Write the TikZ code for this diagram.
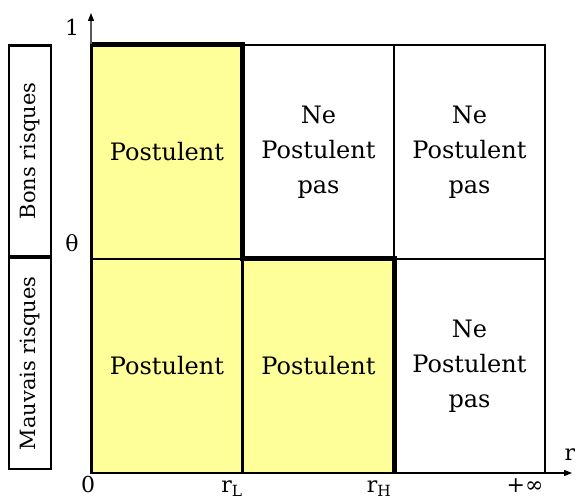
\documentclass[tikz,border=0pt]{standalone}
\usepackage{fontspec}
\setmainfont{DejaVu Serif}
\usetikzlibrary{arrows.meta}
\definecolor{jaune}{RGB}{255,255,153}
\tikzset{
  cell/.style={draw,line width=2.4pt,outer sep=0pt,minimum width=151pt,minimum height=214pt,inner sep=0pt,align=center,font=\fontsize{24}{35}\selectfont},
  risk/.style={draw,line width=2.6pt,outer sep=0pt,minimum width=211pt,minimum height=42pt,inner sep=0pt,rotate=90,font=\fontsize{21}{24}\selectfont},
  lab/.style={inner sep=0pt,font=\fontsize{22}{24}\selectfont}
}
\begin{document}
\begin{tikzpicture}[x=1pt,y=1pt]
		\useasboundingbox (0,0) rectangle (576,501);
		% cellules
		\foreach \n/\x/\y/\c/\t in{hg/167/349/jaune/Postulent,hm/318.5/349/white/{Ne\\Postulent\\pas},hd/469.5/349/white/{Ne\\Postulent\\pas},bg/167/135/jaune/Postulent,bm/318.5/135/jaune/Postulent,bd/469.5/135/white/{Ne\\Postulent\\pas}}{
				\node[cell,fill=\c](\n) at (\x,\y){\t};}
		% frontiere
		\draw[line width=5pt](hg.north west)--(hg.north east)--(hg.south east)--(bm.north east)--(bm.south east);
		% axes
		\coordinate (o) at (bg.south west);
		\draw[-{Triangle[length=8pt,width=6pt]},line width=1.2pt](o)--(91,488) coordinate (ytop);
		\draw[-{Triangle[length=8pt,width=6pt]},line width=1.2pt](o)--(572,28) coordinate (xend);
		% risques
		\node[risk](bons) at (30,350){Bons risques};
		\node[risk](mauvais) at (30,137.5){Mauvais risques};
		% etiquettes
		\node[lab](un) at (72,474){1};
		\node[lab](theta) at (72,258){θ};
		\node[lab,anchor=base](zero) at (88,9){0};
		\node[lab,anchor=base](rl) at (232,9){r\textsubscript{L}};
		\node[lab,anchor=base](rh) at (379,9){r\textsubscript{H}};
		\node[lab,anchor=base](inf) at (525,9){+∞};
		\node[lab](r) at (570,46){r};
	\end{tikzpicture}
\end{document}
